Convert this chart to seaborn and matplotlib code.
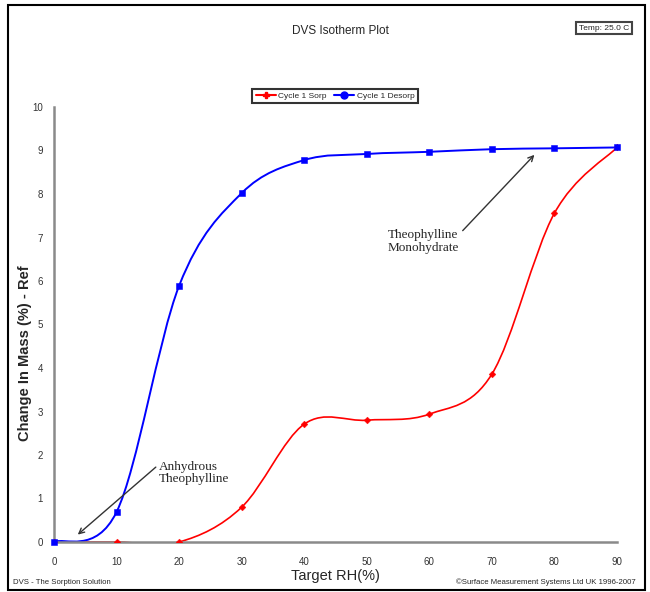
import numpy as np
import matplotlib
matplotlib.use("Agg")
import matplotlib.pyplot as plt
from matplotlib.path import Path
from matplotlib.patches import PathPatch, Rectangle
from matplotlib.lines import Line2D
import seaborn as sns

# Data
rh = [0, 10, 20, 30, 40, 50, 60, 70, 80, 90]
sorption = [0.0, 0.0, 0.0, 0.80, 2.71, 2.80, 2.94, 3.86, 7.56, 9.07]
desorption = [0.0, 0.69, 5.89, 8.02, 8.78, 8.92, 8.97, 9.03, 9.05, 9.07]
yticks = list(range(0, 11))
xticks = list(range(0, 100, 10))

sns.set_style("white")
plt.rcParams["font.family"] = ["Liberation Sans", "DejaVu Sans"]

fig = plt.figure(figsize=(6.5, 5.92), dpi=100)
ax = fig.add_axes([54 / 650, 50 / 592, 563 / 650, 435 / 592])


def smooth_path(x, y):
    # Excel-style smoothed line: cubic Bezier segments through the points
    pts = np.column_stack([x, y]).astype(float)
    n = len(pts)
    verts = [pts[0]]
    codes = [Path.MOVETO]
    for i in range(n - 1):
        p0 = pts[max(i - 1, 0)]
        p1 = pts[i]
        p2 = pts[i + 1]
        p3 = pts[min(i + 2, n - 1)]
        c1 = p1 + (p2 - p0) / 6.0
        c2 = p2 - (p3 - p1) / 6.0
        verts += [c1, c2, p2]
        codes += [Path.CURVE4] * 3
    return Path(verts, codes)


ax.add_patch(PathPatch(smooth_path(rh, sorption), fill=False, edgecolor="red", lw=1.2))
ax.add_patch(PathPatch(smooth_path(rh, desorption), fill=False, edgecolor="blue", lw=1.4))

sns.scatterplot(x=rh, y=sorption, ax=ax, marker="D", s=12, color="red",
                edgecolor="red", zorder=4, legend=False)
sns.scatterplot(x=rh, y=desorption, ax=ax, marker="s", s=24, color="blue",
                edgecolor="blue", zorder=5, legend=False, clip_on=False)

ax.set_xlim(0, 90)
ax.set_ylim(0, 10)
ax.set_xticks(xticks)
ax.set_yticks(yticks)
ax.tick_params(axis="both", labelsize=7, colors="#555555", labelcolor="#333333")
ax.tick_params(axis="x", direction="inout", length=5, width=1.2, pad=8)
ax.tick_params(axis="y", direction="in", length=4, width=1.2, pad=8)
for s in ["top", "right"]:
    ax.spines[s].set_visible(False)
for s in ["left", "bottom"]:
    ax.spines[s].set_color("#8a8a8a")
    ax.spines[s].set_linewidth(1.8)

ax.set_xlabel("Target RH(%)", fontsize=10.5)
ax.xaxis.set_label_coords(0.5, -(569 - 542) / 435)
ax.set_ylabel("Change In Mass (%) - Ref", fontsize=10.5, fontweight="bold")
ax.yaxis.set_label_coords(-(54 - 32) / 563, (542 - 353) / 435)

# Annotations
serif = ["Liberation Serif", "DejaVu Serif"]
ax.annotate("Anhydrous\nTheophylline", xy=(3.8, 0.17), xytext=(16.8, 1.3),
            fontsize=9.5, family=serif, ha="left", va="bottom", linespacing=1.1,
            arrowprops=dict(arrowstyle="->", color="#333333", lw=1, shrinkA=0, shrinkB=0,
                            relpos=(0, 0.85)))
ax.annotate("Theophylline\nMonohydrate", xy=(76.8, 8.9), xytext=(53.4, 6.62),
            fontsize=9.5, family=serif, ha="left", va="bottom", linespacing=1.1,
            arrowprops=dict(arrowstyle="->", color="#333333", lw=1, shrinkA=0, shrinkB=0,
                            relpos=(1, 0.8)))

# Legend
handles = [
    Line2D([], [], color="red", marker="P", markersize=5, lw=1.5),
    Line2D([], [], color="blue", marker="o", markersize=5, lw=1.5),
]
leg = fig.legend(handles, ["Cycle 1 Sorp", "Cycle 1 Desorp"], loc="center",
                 bbox_to_anchor=(335 / 650, 1 - 96 / 592), ncol=2, fontsize=6,
                 frameon=True, fancybox=False, handlelength=2.4, handletextpad=0.3,
                 columnspacing=0.9, borderpad=0.4)
leg.get_frame().set_edgecolor("black")
leg.get_frame().set_linewidth(1.5)

# Titles and footer texts
fig.text(340 / 650, 1 - 31 / 592, "DVS Isotherm Plot", ha="center", va="center", fontsize=8.5)
fig.text(604 / 650, 1 - 28 / 592, "Temp: 25.0 C", ha="center", va="center", fontsize=6,
         bbox=dict(boxstyle="square,pad=0.35", fc="white", ec="#444444", lw=1.5))
fig.text(13 / 650, 1 - 582 / 592, "DVS - The Sorption Solution", ha="left", va="center",
         fontsize=5.6)
fig.text(636 / 650, 1 - 582 / 592, "\u00a9Surface Measurement Systems Ltd UK 1996-2007",
         ha="right", va="center", fontsize=5.6)

# Outer frame
fig.patches.append(Rectangle((8 / 650, 2 / 592), 637 / 650, 585 / 592,
                             transform=fig.transFigure, fill=False,
                             edgecolor="black", lw=1.5))

fig.savefig("out.png", dpi=100)
